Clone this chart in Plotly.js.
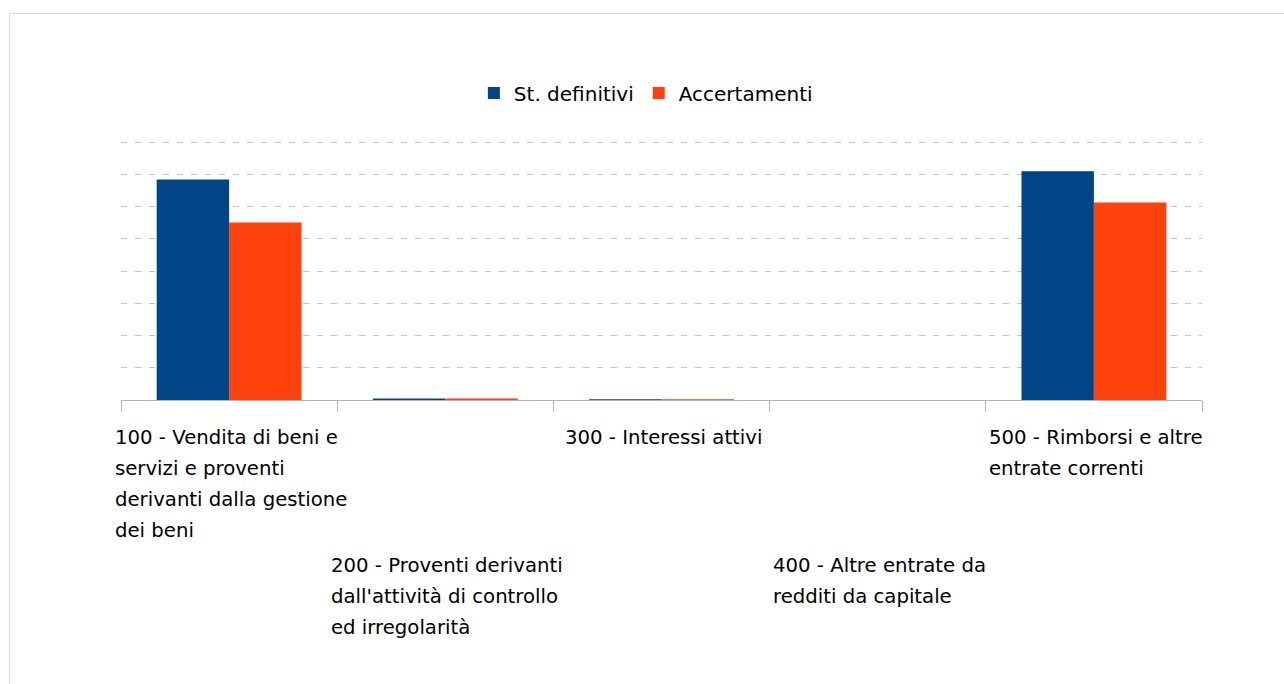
<!DOCTYPE html>
<html>
<head>
<meta charset="utf-8">
<script src="https://cdn.plot.ly/plotly-3.0.1.min.js"></script>
<style>
html,body{margin:0;padding:0;background:#fff;}
#frame{position:absolute;left:9px;top:13px;width:1300px;height:700px;border-top:1px solid #dadada;border-left:1px solid #dadada;}
#chart{position:absolute;left:0;top:0;width:1284px;height:684px;}
</style>
</head>
<body>
<div id="frame"></div>
<div id="chart"></div>
<script>
// Data
var categories = ["100", "200", "300", "400", "500"];
var labelLines = [
  ["100 - Vendita di beni e", "servizi e proventi", "derivanti dalla gestione", "dei beni"],
  ["200 - Proventi derivanti", "dall'attività di controllo", "ed irregolarità"],
  ["300 - Interessi attivi"],
  ["400 - Altre entrate da", "redditi da capitale"],
  ["500 - Rimborsi e altre", "entrate correnti"]
];
var stDefinitivi = [6.84, 0.05, 0.02, 0, 7.10];
var accertamenti = [5.51, 0.05, 0.02, 0, 6.13];
var seriesNames = ["St. definitivi", "Accertamenti"];

var FONT = "DejaVu Sans";
var FSIZE = 19.7;
var ctx = document.createElement("canvas").getContext("2d");
ctx.font = FSIZE + "px '" + FONT + "'";

var annotations = [];
labelLines.forEach(function(lines, ci){
  var maxW = 0;
  lines.forEach(function(l){ maxW = Math.max(maxW, ctx.measureText(l).width); });
  var base = (ci % 2 === 0) ? 37 : 165;
  lines.forEach(function(l, li){
    annotations.push({
      x: ci, xref: "x", y: 0, yref: "paper",
      text: l, showarrow: false, xanchor: "left", yanchor: "middle",
      xshift: -maxW / 2, yshift: -(base + 31.3 * li),
      font: {family: FONT, size: FSIZE, color: "#000"}
    });
  });
});

var traces = [
  {type: "bar", name: seriesNames[0], x: categories, y: stDefinitivi, marker: {color: "#004586"}},
  {type: "bar", name: seriesNames[1], x: categories, y: accertamenti, marker: {color: "#ff420e"}}
];

var layout = {
  width: 1284, height: 684,
  margin: {l: 121, r: 82, t: 138.5, b: 284},
  paper_bgcolor: "rgba(0,0,0,0)", plot_bgcolor: "rgba(0,0,0,0)",
  barmode: "group", bargap: 0.33, bargroupgap: 0,
  showlegend: true,
  legend: {orientation: "h", xref: "container", yref: "container", x: 0.503, y: 0.864,
           xanchor: "center", yanchor: "middle", font: {family: FONT, size: 20, color: "#000"},
           itemwidth: 30, tracegroupgap: 0},
  xaxis: {type: "category", range: [-0.5, 4.5], autorange: false, showticklabels: false,
          showline: true, linecolor: "#b3b3b3", linewidth: 1,
          ticks: "outside", ticklen: 11, tickcolor: "#b3b3b3", tickson: "boundaries", showgrid: false,
          zeroline: false},
  yaxis: {range: [0, 8.1], autorange: false, tickvals: [1,2,3,4,5,6,7,8], showticklabels: false,
          showgrid: true, gridcolor: "#c4c4c4",
          griddash: "6px,8px", zeroline: false, showline: false, ticks: ""},
  annotations: annotations,
  font: {family: FONT}
};

Plotly.newPlot("chart", traces, layout, {displayModeBar: false, staticPlot: true});
</script>
</body>
</html>
